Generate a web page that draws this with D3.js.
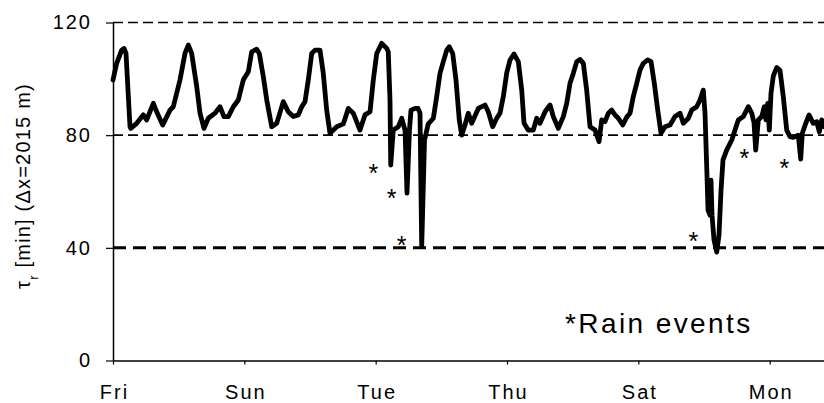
<!DOCTYPE html>
<html>
<head>
<meta charset="utf-8">
<script src="https://cdn.jsdelivr.net/npm/d3@7"></script>
<style>
  html, body { margin: 0; padding: 0; background: #fff; }
  svg { display: block; font-family: "Liberation Sans", Arial, sans-serif; }
</style>
</head>
<body>
<svg id="chart" width="824" height="403"></svg>
<script>
// ---- data (time in days since Friday 00:00, travel time in minutes) ----
const days = [
  0.000, 0.056, 0.132, 0.168, 0.198, 0.259, 0.270, 0.361, 0.461, 0.513, 0.614, 0.665, 0.757, 0.868, 0.918,
  1.020, 1.096, 1.147, 1.198, 1.275, 1.325, 1.386, 1.451, 1.553, 1.629, 1.690, 1.756, 1.832, 1.908, 1.984,
  2.060, 2.112, 2.188, 2.228, 2.289, 2.341, 2.417, 2.493, 2.593, 2.669, 2.746, 2.822, 2.874, 2.924, 2.974,
  3.026, 3.076, 3.152, 3.202, 3.254, 3.304, 3.407, 3.507, 3.583, 3.659, 3.761, 3.837, 3.914, 3.964,
  4.016, 4.092, 4.168, 4.192, 4.218, 4.229, 4.268, 4.345, 4.396, 4.447, 4.477, 4.515, 4.538, 4.599, 4.645,
  4.675, 4.701, 4.744, 4.801, 4.878, 4.929, 4.980,
  5.030, 5.082, 5.121, 5.173, 5.223, 5.273, 5.310, 5.360, 5.411, 5.462, 5.563, 5.665, 5.715, 5.782, 5.843,
  5.893, 5.944, 5.995,
  6.046, 6.106, 6.172, 6.224, 6.259, 6.324, 6.400, 6.452, 6.502, 6.579, 6.655, 6.705, 6.781, 6.857, 6.909, 6.959,
  7.010, 7.061, 7.111, 7.162, 7.213, 7.264, 7.340, 7.401, 7.442, 7.492, 7.543, 7.594, 7.644, 7.695, 7.762,
  7.823, 7.873, 7.923, 7.975,
  8.025, 8.075, 8.142, 8.193, 8.243, 8.295, 8.345, 8.406, 8.482, 8.558, 8.634, 8.685, 8.761, 8.813, 8.889,
  8.939, 8.989,
  9.015, 9.045, 9.061, 9.091, 9.106, 9.122, 9.152, 9.193, 9.228, 9.259, 9.289, 9.345, 9.422, 9.472, 9.522,
  9.598, 9.675, 9.726, 9.761, 9.787, 9.827, 9.879, 9.918, 9.944, 9.970, 9.994,
  10.020, 10.055, 10.107, 10.157, 10.207, 10.259, 10.309, 10.360, 10.436, 10.472, 10.497, 10.549, 10.599,
  10.664, 10.716, 10.756, 10.792, 10.827
];
const tau = [
  99.6, 105.5, 110.2, 110.8, 109.0, 83.0, 82.4, 84.2, 87.2, 85.4, 91.3, 88.3, 83.6, 88.9, 90.1,
  99.6, 109.0, 112.0, 109.0, 97.2, 87.8, 82.4, 86.0, 87.8, 90.1, 86.6, 86.6, 90.1, 92.5, 99.6,
  102.5, 109.6, 110.5, 109.0, 100.8, 92.5, 83.0, 84.2, 91.9, 88.3, 86.6, 87.2, 90.1, 91.9, 99.6,
  109.0, 110.2, 110.2, 102.0, 88.9, 80.7, 83.0, 84.0, 89.5, 87.8, 81.8, 87.2, 88.3, 99.6,
  109.0, 112.6, 110.8, 109.6, 92.5, 69.4, 81.8, 83.0, 86.0, 81.8, 59.4, 82.0, 88.9, 89.5, 89.5,
  87.8, 40.4, 78.3, 84.0, 86.0, 93.7, 102.0,
  106.1, 110.2, 111.4, 109.0, 99.6, 85.4, 80.0, 83.6, 87.8, 84.2, 89.5, 90.7, 88.3, 83.0, 86.0,
  87.8, 93.7, 102.0,
  106.7, 108.8, 106.1, 96.0, 84.2, 81.8, 81.8, 86.0, 84.2, 88.3, 90.7, 86.6, 82.4, 86.6, 91.3, 98.4,
  102.0, 106.1, 106.9, 105.5, 96.0, 83.0, 81.8, 77.7, 85.4, 84.8, 87.8, 88.9, 87.2, 86.0, 83.6,
  86.4, 87.8, 93.7, 98.4,
  103.1, 105.5, 106.7, 106.1, 98.4, 88.9, 80.7, 83.0, 83.6, 86.6, 87.8, 84.2, 86.0, 88.9, 90.1,
  92.5, 96.0,
  87.8, 65.8, 53.4, 51.6, 64.0, 51.6, 42.8, 38.5, 44.5, 60.5, 71.2, 74.7, 78.3, 81.8, 85.4,
  86.6, 90.1, 87.8, 84.5, 74.7, 85.4, 86.6, 90.1, 85.4, 91.3, 81.8,
  94.9, 101.0, 104.0, 103.0, 93.7, 81.8, 79.5, 79.2, 80.0, 71.5, 80.7, 84.2, 87.2,
  84.2, 84.8, 81.2, 85.4, 83.0
];
const tickDays = [0, 2, 4, 6, 8, 10];
const tickLabels = ["Fri", "Sun", "Tue", "Thu", "Sat", "Mon"];
const yTicks = [0, 40, 80, 120];
const refLines = [40, 80, 120];
const rainDays = [3.964, 4.244, 4.396, 8.837, 9.613, 10.222];
const rainVals = [68.8, 59.7, 43.0, 44.6, 74.1, 70.6];
const noteText = "*Rain events";

// ---- layout ----
const svg = d3.select("#chart");
const x = d3.scaleLinear().domain([0, 10.827]).range([113, 824]);
const y = d3.scaleLinear().domain([0, 120]).range([360.5, 22.5]);

// reference dashed lines
const refStyle = {
  40: { w: 3, dash: "13,7" },
  80: { w: 1.6, dash: "10,5" },
  120: { w: 1.6, dash: "10,5" }
};
svg.append("g").selectAll("line").data(refLines).join("line")
  .attr("x1", x(0)).attr("x2", x.range()[1])
  .attr("y1", d => y(d)).attr("y2", d => y(d))
  .attr("stroke", "#000")
  .attr("stroke-width", d => refStyle[d].w)
  .attr("stroke-dasharray", d => refStyle[d].dash);

// axes
const yAxis = svg.append("g").attr("transform", `translate(${x(0)},0)`)
  .call(d3.axisLeft(y).tickValues(yTicks).tickSize(7).tickSizeOuter(0).tickPadding(14));
const xAxis = svg.append("g").attr("transform", `translate(0,${y(0)})`)
  .call(d3.axisBottom(x).tickValues(tickDays).tickFormat((d, i) => tickLabels[i])
    .tickSize(4).tickSizeOuter(0).tickPadding(20));
[yAxis, xAxis].forEach(g => {
  g.select(".domain").attr("stroke", "#000").attr("stroke-width", 1.5);
  g.selectAll(".tick line").attr("stroke", "#000").attr("stroke-width", 1.2);
  g.selectAll(".tick text").attr("fill", "#000")
    .style("font-size", "20px").style("letter-spacing", "2px")
    .style("font-family", "'Liberation Sans', Arial, sans-serif");
});
xAxis.selectAll(".tick text").attr("dx", "1px");

// y axis title
const yt = svg.append("text")
  .attr("transform", "translate(30,186) rotate(-90)")
  .attr("text-anchor", "middle")
  .style("font-size", "20px").style("letter-spacing", "1.2px");
yt.append("tspan").text("τ");
yt.append("tspan").attr("baseline-shift", "sub").style("font-size", "13px").text("r");
yt.append("tspan").text(" [min] (Δx=2015 m)");

// data line
const series = days.map((d, i) => ({ d, v: tau[i] }));
svg.append("path").datum(series)
  .attr("fill", "none").attr("stroke", "#000")
  .attr("stroke-width", 4.8)
  .attr("stroke-linejoin", "round").attr("stroke-linecap", "round")
  .attr("d", d3.line().x(p => x(p.d)).y(p => y(p.v)));

// rain markers
svg.append("g").selectAll("text").data(rainDays.map((d, i) => ({ d, v: rainVals[i] }))).join("text")
  .attr("x", p => x(p.d)).attr("y", p => y(p.v))
  .attr("dy", "0.6em")
  .attr("text-anchor", "middle")
  .style("font-size", "25px")
  .text("*");

// note
svg.append("text")
  .attr("x", 565).attr("y", 333)
  .style("font-size", "28px").style("letter-spacing", "2.4px")
  .text(noteText);
</script>
</body>
</html>
